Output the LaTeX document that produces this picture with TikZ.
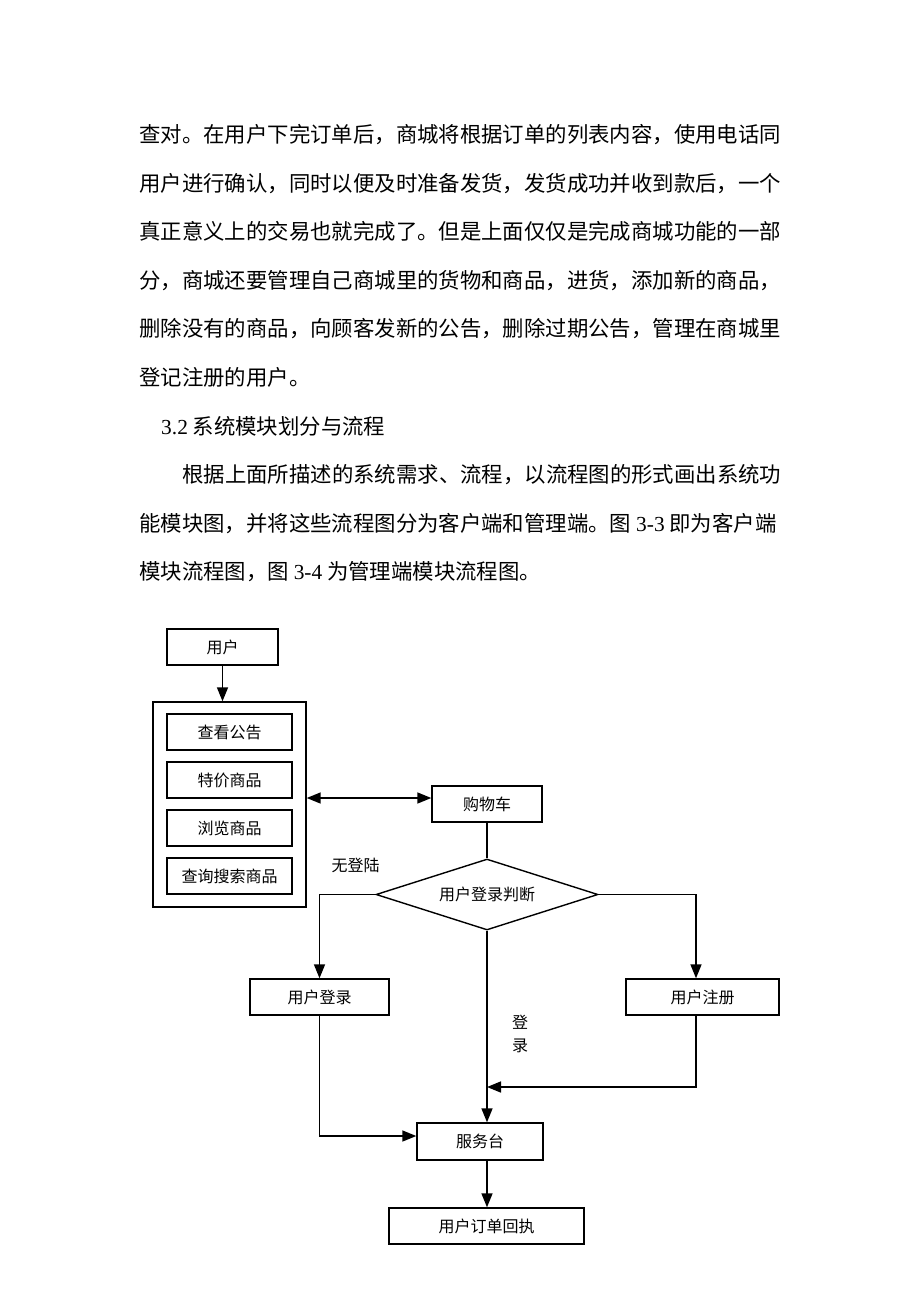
\documentclass[tikz,border=0pt]{standalone}
\usepackage{fontspec}
\setmainfont{Noto Sans CJK SC}
\newfontfamily\latin{Liberation Serif}
\usetikzlibrary{arrows.meta,shapes.geometric}

\begin{document}
\begin{tikzpicture}[x=1pt,y=-1pt,>={Triangle[length=14pt,width=11pt]},
	conn/.style={draw,line width=1.6pt},
	arr/.style={conn,->},
	dbl/.style={conn,<->},
	box/.style={draw,line width=1.4pt,inner sep=0pt,minimum height=36pt,font=\fontsize{16}{16}\selectfont},
	para/.style={anchor=base west,inner sep=0pt,font=\fontsize{21.4}{21.4}\selectfont},
	lbl/.style={inner sep=0pt,font=\fontsize{16}{16}\selectfont}]
					\useasboundingbox (0,0) rectangle (920,1302);
					\fill[white] (0,0) rectangle (920,1302);
					
					\node[para] (l1) at (139,142.5) {查对。在用户下完订单后，商城将根据订单的列表内容，使用电话同};
					\node[para] (l2) at (139,191.1) {用户进行确认，同时以便及时准备发货，发货成功并收到款后，一个};
					\node[para] (l3) at (139,239.7) {真正意义上的交易也就完成了。但是上面仅仅是完成商城功能的一部};
					\node[para] (l4) at (139,288.3) {分，商城还要管理自己商城里的货物和商品，进货，添加新的商品，};
					\node[para] (l5) at (139,336.9) {删除没有的商品，向顾客发新的公告，删除过期公告，管理在商城里};
					\node[para] (l6) at (139,385.5) {登记注册的用户。};
					\node[para] (l7) at (161,434.1) {{\latin 3.2} 系统模块划分与流程};
					\node[para] (l8) at (182,482.7) {根据上面所描述的系统需求、流程，以流程图的形式画出系统功};
					\node[para] (l9) at (139,531.3) {能模块图，并将这些流程图分为客户端和管理端。图 {\latin 3-3} 即为客户端};
					\node[para] (l10) at (139,579.9) {模块流程图，图 {\latin 3-4} 为管理端模块流程图。};
					
					\node[box, minimum width=111pt] (user) at (222.5,647) {用户};
					\node[draw, line width=1.4pt, minimum width=153pt, minimum height=205pt] (menu) at (229.5,804.5) {};
					\node[box, minimum width=125pt] (m1) at (229.5,732) {查看公告};
					\node[box, minimum width=125pt] (m2) at (229.5,780) {特价商品};
					\node[box, minimum width=125pt] (m3) at (229.5,828) {浏览商品};
					\node[box, minimum width=125pt] (m4) at (229.5,876) {查询搜索商品};
					\node[box, minimum width=110pt] (cart) at (487,804) {购物车};
					\node[box, shape=diamond, aspect=3, minimum width=222pt, minimum height=71pt] (judge) at (487,894.5) {用户登录判断};
					\node[box, minimum width=139pt] (login) at (319.5,997) {用户登录};
					\node[box, minimum width=153pt] (reg) at (702.5,997) {用户注册};
					\node[box, minimum width=126pt, minimum height=37pt] (desk) at (480,1141.5) {服务台};
					\node[box, minimum width=195pt] (order) at (486.5,1226) {用户订单回执};
					
					\node[lbl] (nolog) at (355.5,865) {无登陆};
					\node[lbl] (yes1) at (520,1022) {登};
					\node[lbl] (yes2) at (520,1046) {录};
					\coordinate (merge) at (487,1087);
					
					\path[arr] (user.south) -- (user.south |- menu.north);
					\path[dbl] ([yshift=6pt]cart.west -| menu.east) -- ([yshift=6pt]cart.west);
					\path[conn] (cart.south) -- (judge.north);
					\path[arr] (judge.west) -| (login.north);
					\path[arr] (judge.east) -| ([xshift=-6.5pt]reg.north);
					\path[arr] (judge.south) -- (judge.south |- desk.north);
					\path[arr] ([xshift=-6.5pt]reg.south) |- (merge);
					\path[arr] (login.south) |- ([yshift=5.5pt]desk.west);
					\path[arr] (judge.south |- desk.south) -- (judge.south |- order.north);
				\end{tikzpicture}
\end{document}
